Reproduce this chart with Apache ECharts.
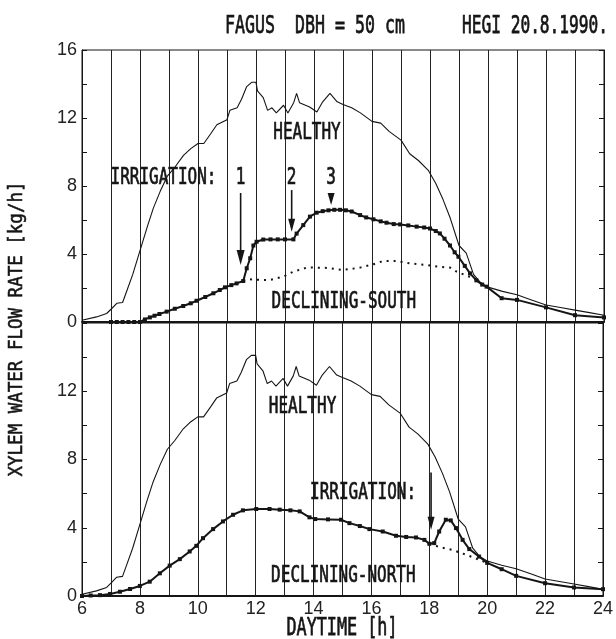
<!DOCTYPE html>
<html>
<head>
<meta charset="utf-8">
<script src="https://cdn.jsdelivr.net/npm/echarts@6/dist/echarts.min.js"></script>
<style>
html, body { margin: 0; padding: 0; background: #fff; }
#graph { width: 616px; height: 639px; }
</style>
</head>
<body>
<div id="graph"></div>
<script>
// daytime [h], flow rate [kg/h]
var healthy = [
    [6.0, 0.1], [6.5, 0.3], [6.85, 0.5], [7.0, 0.75], [7.2, 1.1], [7.4, 1.15], [7.55, 1.85],
    [7.75, 2.8], [8.0, 4.2], [8.25, 5.6], [8.46, 6.7], [8.7, 7.7], [8.95, 8.6], [9.2, 9.1],
    [9.5, 9.8], [9.75, 10.2], [10.0, 10.5], [10.2, 10.5], [10.45, 11.1], [10.65, 11.6],
    [11.0, 11.9], [11.1, 12.45], [11.35, 12.6], [11.5, 13.1], [11.68, 13.85], [11.85, 14.1],
    [12.0, 14.1], [12.05, 13.6], [12.25, 13.2], [12.4, 12.45], [12.55, 12.6], [12.7, 12.3],
    [12.95, 12.75], [13.1, 12.3], [13.3, 12.9], [13.4, 13.45], [13.5, 12.9], [13.85, 12.65],
    [14.1, 12.35], [14.3, 12.95], [14.55, 13.45], [14.8, 12.95], [15.0, 12.8], [15.3, 12.6],
    [15.6, 12.3], [16.0, 11.8], [16.3, 11.7], [16.6, 11.2], [17.0, 10.7], [17.3, 9.9],
    [17.6, 9.5], [17.95, 8.9], [18.2, 8.15], [18.45, 7.2], [18.7, 6.1], [19.0, 4.5],
    [19.25, 4.05], [19.5, 2.8], [19.75, 2.3], [20.0, 2.05], [20.5, 1.8], [21.0, 1.6],
    [21.5, 1.3], [22.0, 1.0], [22.5, 0.85], [23.0, 0.7], [23.5, 0.55], [24.0, 0.4]
];

var southDeclining = [
    [7.0, 0], [7.2, 0], [7.4, 0], [7.6, 0], [7.8, 0], [8.0, 0], [8.17, 0.15], [8.34, 0.27],
    [8.5, 0.37], [8.67, 0.47], [8.92, 0.61], [9.2, 0.78], [9.49, 0.94], [9.75, 1.1],
    [9.95, 1.25], [10.25, 1.47], [10.53, 1.69], [10.75, 1.88], [10.93, 2.04], [11.15, 2.17],
    [11.33, 2.27], [11.56, 2.41], [11.68, 3.16], [11.8, 3.75], [11.91, 4.5], [12.02, 4.72],
    [12.25, 4.85], [12.5, 4.86], [12.75, 4.86], [13.0, 4.86], [13.29, 4.86], [13.4, 5.2],
    [13.63, 5.7], [13.86, 6.2], [14.09, 6.43], [14.3, 6.52], [14.5, 6.57], [14.7, 6.6],
    [14.9, 6.6], [15.1, 6.57], [15.3, 6.5], [15.59, 6.29], [15.8, 6.15], [16.05, 6.04],
    [16.3, 5.92], [16.5, 5.84], [16.75, 5.76], [16.97, 5.74], [17.25, 5.68], [17.54, 5.61],
    [17.8, 5.56], [18.0, 5.5], [18.2, 5.35], [18.34, 5.21], [18.5, 4.9], [18.69, 4.5],
    [18.85, 4.1], [18.98, 3.84], [19.2, 3.3], [19.38, 2.86], [19.6, 2.45], [19.8, 2.2],
    [19.95, 2.08], [20.47, 1.4], [21.0, 1.3], [22.0, 0.86], [23.0, 0.4], [24.0, 0.27]
];

// dotted: course without irrigation
var southNoIrrigation = [
    [11.56, 2.41], [11.79, 2.51], [12.1, 2.48], [12.48, 2.47], [12.94, 2.67], [13.29, 2.96],
    [13.75, 3.2], [14.1, 3.2], [14.44, 3.18], [15.0, 3.06], [15.59, 3.2], [16.05, 3.4],
    [16.39, 3.59], [16.85, 3.59], [17.31, 3.45], [17.89, 3.35], [18.3, 3.25], [18.69, 3.2],
    [18.92, 2.96], [19.5, 2.57], [19.95, 2.08]
];

var northDeclining = [
    [6.0, 0], [6.3, 0.03], [6.62, 0.05], [6.97, 0.12], [7.31, 0.25], [7.66, 0.41], [8.0, 0.59],
    [8.34, 0.84], [8.69, 1.33], [9.03, 1.78], [9.38, 2.16], [9.72, 2.61], [9.95, 2.94],
    [10.18, 3.39], [10.53, 3.92], [10.87, 4.37], [11.22, 4.76], [11.56, 5.02], [12.02, 5.1],
    [12.48, 5.1], [12.83, 5.06], [13.2, 5.02], [13.52, 4.96], [13.86, 4.61], [14.06, 4.51],
    [14.5, 4.49], [14.95, 4.47], [15.24, 4.27], [15.6, 4.1], [15.93, 3.92], [16.39, 3.78],
    [16.85, 3.53], [17.2, 3.46], [17.54, 3.43], [17.83, 3.29], [18.0, 3.06], [18.17, 3.1],
    [18.34, 3.78], [18.57, 4.47], [18.74, 4.43], [18.92, 3.98], [19.15, 3.29], [19.38, 2.75],
    [19.72, 2.31], [20.0, 1.94], [20.5, 1.57], [21.0, 1.18], [22.0, 0.75], [23.0, 0.5],
    [24.0, 0.4]
];

var northNoIrrigation = [
    [18.0, 3.06], [18.4, 2.85], [18.8, 2.7], [19.38, 2.35], [20.0, 1.94]
];

// irrigation times [h]
var southIrrigation = [11.47, 13.23, 14.59];
var southIrrigationNames = ['1', '2', '3'];
var northIrrigation = [18.06];

var INK = '#151515';
var PLOT_FONT = '"DejaVu Sans Mono", monospace';
var TICK_FONT = '"Liberation Sans", Arial, sans-serif';

function xAxisCfg(gridIdx, showLabel) {
    return {
        type: 'value', gridIndex: gridIdx, min: 6, max: 24, interval: 1,
        axisLine: {show: true, lineStyle: {color: INK, width: 2}},
        axisTick: {show: false},
        axisLabel: {
            show: showLabel, margin: 4, color: '#222', fontSize: 18, fontFamily: TICK_FONT,
            formatter: function (v) { return v % 2 === 0 ? String(v) : ''; }
        },
        splitLine: {show: true, lineStyle: {color: '#222', width: 1}}
    };
}

function yAxisCfg(gridIdx, pos, hideTop) {
    return {
        type: 'value', gridIndex: gridIdx, position: pos, min: 0, max: 16, interval: 4,
        axisLine: {show: true, lineStyle: {color: INK, width: 1}},
        axisTick: {show: true, inside: true, length: 5, lineStyle: {color: INK}},
        minorTick: {show: true, splitNumber: 2, length: 5, lineStyle: {color: INK}},
        axisLabel: {
            show: pos === 'left', margin: 5, color: '#222', fontSize: 18, fontFamily: TICK_FONT,
            formatter: function (v) { return (hideTop && v === 16) ? '' : String(v); }
        },
        splitLine: {show: false}
    };
}

function thinLine(name, x, y, data) {
    return {
        name: name, type: 'line', xAxisIndex: x, yAxisIndex: y, data: data,
        showSymbol: false, lineStyle: {color: INK, width: 1.1}, z: 3
    };
}

function dotLine(name, x, y, data) {
    return {
        name: name, type: 'line', xAxisIndex: x, yAxisIndex: y, data: data,
        symbol: 'rect', symbolSize: 4, showSymbol: true,
        itemStyle: {color: INK}, lineStyle: {color: INK, width: 2}, z: 4
    };
}

function dottedLine(name, x, y, data) {
    return {
        name: name, type: 'line', xAxisIndex: x, yAxisIndex: y, data: data,
        showSymbol: false, lineStyle: {color: INK, width: 2, type: [2, 5]}, z: 3
    };
}

var option = {
    animation: false,
    backgroundColor: '#fff',
    grid: [
        {left: 82, right: 12, top: 50, height: 272, show: true, borderColor: INK, borderWidth: 1},
        {left: 82, right: 12, top: 323, height: 273, show: true, borderColor: INK, borderWidth: 1}
    ],
    xAxis: [xAxisCfg(0, false), xAxisCfg(1, true)],
    yAxis: [
        yAxisCfg(0, 'left', false), yAxisCfg(0, 'right', false),
        yAxisCfg(1, 'left', true), yAxisCfg(1, 'right', true)
    ],
    series: [
        thinLine('healthy-top', 0, 0, healthy),
        dottedLine('south-no-irrigation', 0, 0, southNoIrrigation),
        dotLine('declining-south', 0, 0, southDeclining),
        thinLine('healthy-bottom', 1, 2, healthy),
        dottedLine('north-no-irrigation', 1, 2, northNoIrrigation),
        dotLine('declining-north', 1, 2, northDeclining)
    ]
};

var chart = echarts.init(document.getElementById('graph'));
chart.setOption(option);

// ---- annotations ----
function px(panel, h, v) {
    return chart.convertToPixel({xAxisIndex: panel, yAxisIndex: panel * 2}, [h, v]);
}

function plotText(text, x, y, size, sy, rot) {
    return {
        type: 'text', x: x, y: y, scaleY: sy, rotation: rot || 0, z: 10,
        style: {
            text: text, fill: INK, stroke: INK, lineWidth: 0.5, font: size + 'px ' + PLOT_FONT,
            textAlign: 'center', textVerticalAlign: 'middle',
            align: 'center', verticalAlign: 'middle'
        }
    };
}

function dataText(text, panel, h, v) {
    var p = px(panel, h, v);
    return plotText(text, p[0], p[1], 16, 1.45);
}

function arrow(panel, h, vFrom, vTo, head, w) {
    var a = px(panel, h, vFrom), b = px(panel, h, vTo);
    var els = [];
    if (b[1] - a[1] > head) {
        els.push({
            type: 'line', z: 10,
            shape: {x1: a[0], y1: a[1], x2: b[0], y2: b[1] - head + 2},
            style: {stroke: INK, lineWidth: 1.6}
        });
    }
    els.push({
        type: 'polygon', z: 10,
        shape: {points: [[b[0] - w / 2, b[1] - head], [b[0] + w / 2, b[1] - head], [b[0], b[1]]]},
        style: {fill: INK}
    });
    return els;
}

var g = [];
g.push(plotText('FAGUS  DBH = 50 cm', 315, 27, 16.6, 1.5));
g.push(plotText('HEGI 20.8.1990.', 535, 27, 16.2, 1.5));
g.push(plotText('DAYTIME [h]', 342, 628, 16.8, 1.5));
g.push(plotText('XYLEM WATER FLOW RATE [kg/h]', 17, 329, 17.5, 1.15, Math.PI / 2));

g.push(dataText('HEALTHY', 0, 13.76, 11.1));
g.push(dataText('IRRIGATION:', 0, 8.81, 8.47));
g.push(dataText('DECLINING-SOUTH', 0, 15.03, 1.18));
g.push(dataText('HEALTHY', 1, 13.62, 11.1));
g.push(dataText('IRRIGATION:', 1, 15.71, 6.06));
g.push(dataText('DECLINING-NORTH', 1, 15.03, 1.18));

southIrrigation.forEach(function (h, i) {
    g.push(dataText(southIrrigationNames[i], 0, h, 8.47));
});
g = g.concat(arrow(0, southIrrigation[0], 7.59, 3.35, 15, 8));
g = g.concat(arrow(0, southIrrigation[1], 7.76, 5.31, 13, 7));
g = g.concat(arrow(0, southIrrigation[2], 7.59, 6.88, 12, 7));
g = g.concat(arrow(1, northIrrigation[0], 7.24, 3.88, 13, 7));

chart.setOption({graphic: g});
</script>
</body>
</html>
